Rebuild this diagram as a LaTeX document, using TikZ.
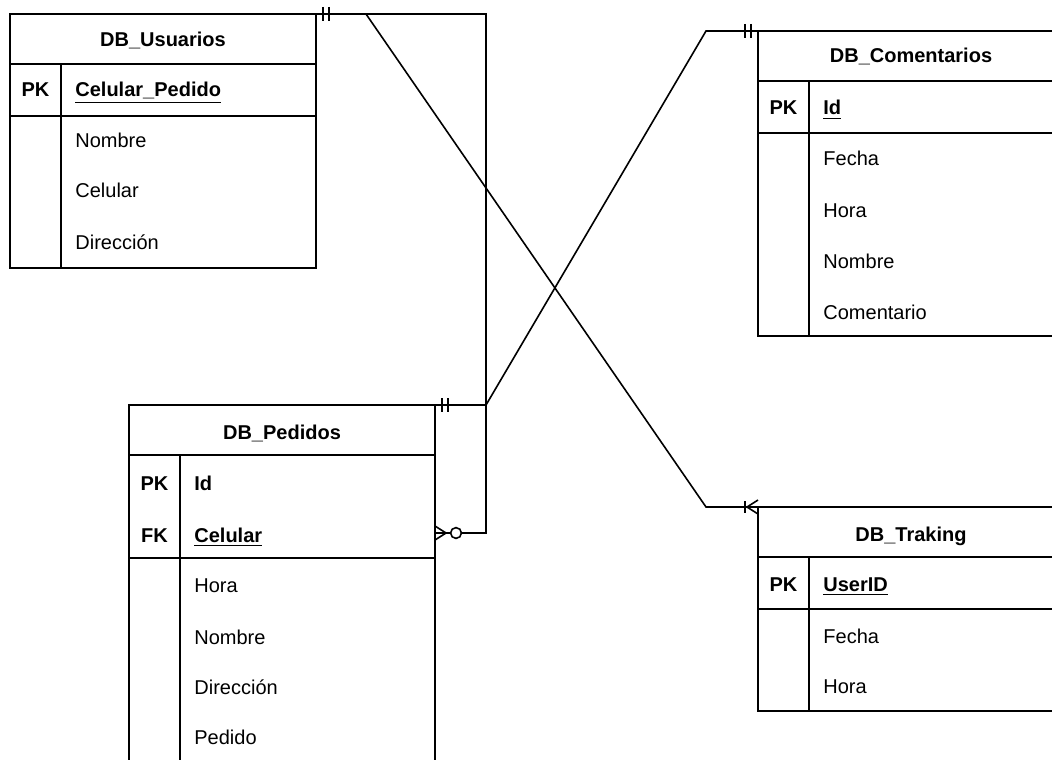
\documentclass[tikz,border=0pt]{standalone}
\usepackage{fontspec}
\setmainfont{Liberation Sans}

\begin{document}
\begin{tikzpicture}
[x=0.5pt,y=-0.5pt,
  lineDecorate/.style={-,line width=0.8pt},%
  tableDecorate/.style={shape=rectangle,draw,line width=0.8pt,anchor=north west,
    inner sep=0pt,outer sep=0pt,minimum width=153pt},%
  titleDecorate/.style={anchor=base,inner sep=0pt,font=\fontsize{10}{12}\selectfont\bfseries},%
  keyDecorate/.style={anchor=base,inner sep=0pt,font=\fontsize{10}{12}\selectfont\bfseries},%
  keyFieldDecorate/.style={anchor=base west,inner sep=0pt,font=\fontsize{10}{12}\selectfont\bfseries},%
  fieldDecorate/.style={anchor=base west,inner sep=0pt,font=\fontsize{10}{12}\selectfont}]
\useasboundingbox (0,0) rectangle (1052,759);
\clip (0,0) rectangle (1052,759);
%% tables
\node (usu) at (10,14) [tableDecorate,minimum height=127pt] {};
\node (com) at (758,31) [tableDecorate,minimum height=152.5pt] {};
\node (ped) at (129,405) [tableDecorate,minimum height=180pt] {};
\node (tra) at (758,507) [tableDecorate,minimum height=102pt] {};
\foreach \x/\y/\h/\k in {10/14/254/102, 758/31/305/102, 129/405/360/153,
  758/507/204/102}
{
  \draw[lineDecorate] (\x,\y+50) -- (\x+306,\y+50);
  \draw[lineDecorate] (\x,\y+\k) -- (\x+306,\y+\k);
  \draw[lineDecorate] (\x+51,\y+50) -- (\x+51,\y+\h);
}
%% titles
\foreach \nodename/\x/\y/\txt in {usu-title/163/47/DB\_Usuarios,
  com-title/911/63/DB\_Comentarios, ped-title/282/439/DB\_Pedidos,
  tra-title/911/541/DB\_Traking}
{
  \node (\nodename) at (\x,\y) [titleDecorate] {\txt};
}
%% keys
\foreach \nodename/\x/\y/\txt in {usu-pk/35.5/97/PK, com-pk/783.5/115/PK,
  ped-pk/154.5/490/PK, ped-fk/154.5/542/FK, tra-pk/783.5/591/PK}
{
  \node (\nodename) at (\x,\y) [keyDecorate] {\txt};
}
\foreach \nodename/\x/\y/\txt in {usu-k1/75/97/\underline{Celular\_Pedido},
  com-k1/823/115/\underline{Id}, ped-k1/194/490/Id,
  ped-k2/194/542/\underline{Celular}, tra-k1/823/591/\underline{UserID}}
{
  \node (\nodename) at (\x,\y) [keyFieldDecorate] {\txt};
}
%% fields
\foreach \nodename/\x/\y/\txt in {usu-f1/75/148/Nombre, usu-f2/75/198/Celular,
  usu-f3/75/249/Dirección, com-f1/823/166/Fecha, com-f2/823/217/Hora,
  com-f3/823/268/Nombre, com-f4/823/319/Comentario, ped-f1/194/592/Hora,
  ped-f2/194/644/Nombre, ped-f3/194/694/Dirección, ped-f4/194/744/Pedido,
  tra-f1/823/643/Fecha, tra-f2/823/693/Hora}
{
  \node (\nodename) at (\x,\y) [fieldDecorate] {\txt};
}
%% relations
\coordinate (ped-in) at ([shift={(0,128)}]ped.north east);
\draw[lineDecorate] (usu.north east) -- ++(170,0) |- (ped-in);
\draw[lineDecorate] (usu.north east) -- ++(50,0) -- ++(340,493) -- (tra.north west);
\draw[lineDecorate] (ped.north east) -- ++(51,0) -- ++(220,-374) -- (com.north west);
%% cardinality marks
\foreach \dx in {7,13}
{
  \draw[lineDecorate] ([shift={(\dx,-7)}]usu.north east) -- ++(0,14);
  \draw[lineDecorate] ([shift={(\dx,-7)}]ped.north east) -- ++(0,14);
  \draw[lineDecorate] ([shift={(-\dx,-7)}]com.north west) -- ++(0,14);
}
\draw[lineDecorate] ([shift={(0,-7)}]ped-in) -- ([shift={(11,0)}]ped-in)
  -- ([shift={(0,7)}]ped-in);
\draw[lineDecorate,fill=white] ([shift={(21,0)}]ped-in) circle[radius=2.7pt];
\draw[lineDecorate] ([shift={(0,-7)}]tra.north west) -- ([shift={(-11,0)}]tra.north west)
  -- ([shift={(0,7)}]tra.north west);
\draw[lineDecorate] ([shift={(-13,-6)}]tra.north west) -- ++(0,12);
\end{tikzpicture}
\end{document}
